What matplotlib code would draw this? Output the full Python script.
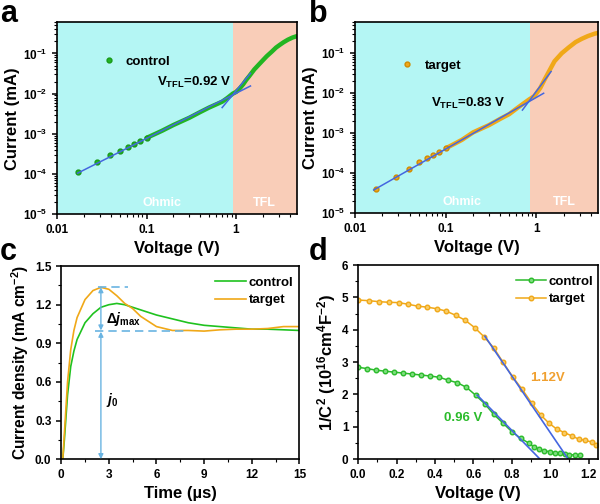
import numpy as np
import matplotlib
matplotlib.use('Agg')
import matplotlib.pyplot as plt
from matplotlib.ticker import FuncFormatter, MultipleLocator, LogLocator, NullFormatter

plt.rcParams.update({
    'font.family': ['Liberation Sans', 'DejaVu Sans'],
    'font.weight': 'bold',
    'axes.labelweight': 'bold',
    'axes.linewidth': 1.2,
    'xtick.labelsize': 8.5,
    'ytick.labelsize': 8.5,
    'axes.labelsize': 12,
    'xtick.major.width': 1.1,
    'ytick.major.width': 1.1,
    'xtick.minor.width': 0.8,
    'ytick.minor.width': 0.8,
    'xtick.major.size': 3.5,
    'ytick.major.size': 3.5,
    'xtick.minor.size': 2,
    'ytick.minor.size': 2,
    'mathtext.fontset': 'custom',
    'mathtext.rm': 'Liberation Sans:bold',
    'mathtext.bf': 'Liberation Sans:bold',
    'mathtext.it': 'Liberation Sans:italic:bold',
})

# colours
green = '#22b522'
orange = '#f0a818'
blue = '#4466e0'
cyan_bg = '#b4f6f4'
salmon_bg = '#f9cdb8'
arrow_c = '#6ab4e2'

# ---- (a) control dark J-V (log-log)
v_ctrl = [0.017, 0.028, 0.039, 0.051, 0.062, 0.073, 0.084, 0.1, 0.15, 0.2, 0.3, 0.4,
          0.5, 0.6, 0.7, 0.8, 0.92, 1.0, 1.1, 1.2, 1.3, 1.4, 1.6, 1.8, 2.0, 2.2, 2.5,
          2.8, 3.1, 3.4, 3.8, 4.3, 4.8]
i_ctrl = [1.1e-4, 2.0e-4, 2.9e-4, 3.8e-4, 4.7e-4, 5.6e-4, 6.6e-4, 7.9e-4, 1.2e-3,
          1.66e-3, 2.5e-3, 3.5e-3, 4.5e-3, 5.4e-3, 6.3e-3, 7.8e-3, 1.0e-2, 1.1e-2,
          1.35e-2, 1.7e-2, 2.2e-2, 2.7e-2, 4.0e-2, 5.3e-2, 6.8e-2, 8.5e-2, 0.11,
          0.14, 0.165, 0.19, 0.22, 0.25, 0.27]
fit_a_ohm_v = [0.017, 1.45]
fit_a_ohm_i = [1.05e-4, 1.55e-2]
fit_a_tfl_v = [0.7, 1.45]
fit_a_tfl_i = [4.5e-3, 3.2e-2]
vtfl_ctrl = 0.92

# ---- (b) target dark J-V
v_tgt = [0.017, 0.028, 0.039, 0.051, 0.062, 0.073, 0.084, 0.1, 0.15, 0.2, 0.3, 0.4,
         0.5, 0.6, 0.7, 0.83, 0.95, 1.1, 1.23, 1.4, 1.58, 1.9, 2.27, 2.7, 3.16, 3.7,
         4.4, 4.7]
i_tgt = [4.0e-5, 8.0e-5, 1.3e-4, 1.9e-4, 2.35e-4, 2.8e-4, 3.3e-4, 4.2e-4, 6.8e-4,
         1.05e-3, 1.6e-3, 2.3e-3, 3.0e-3, 4.1e-3, 5.3e-3, 7.0e-3, 8.5e-3, 1.35e-2,
         2.2e-2, 3.8e-2, 6.3e-2, 0.10, 0.14, 0.19, 0.23, 0.27, 0.31, 0.32]
fit_b_ohm_v = [0.016, 1.2]
fit_b_ohm_i = [3.8e-5, 1.0e-2]
fit_b_tfl_v = [0.7, 1.45]
fit_b_tfl_i = [3.8e-3, 3.5e-2]
vtfl_tgt = 0.85

# ---- (c) transient photocurrent
t_ctrl = [0.0, 0.1, 0.2, 0.4, 0.6, 0.8, 1.0, 1.5, 2.0, 2.5, 3.0, 3.5, 4.0, 4.5, 5.0,
          6.0, 7.0, 8.0, 9.0, 10.0, 11.0, 12.0, 13.0, 14.0, 15.0]
j_ctrl = [0.0, 0.0, 0.15, 0.5, 0.72, 0.84, 0.93, 1.06, 1.13, 1.18, 1.2, 1.21, 1.2,
          1.18, 1.16, 1.12, 1.09, 1.06, 1.04, 1.03, 1.02, 1.01, 1.01, 1.005, 1.0]
t_tgt = [0.0, 0.1, 0.2, 0.4, 0.6, 0.8, 1.0, 1.5, 2.0, 2.5, 3.0, 3.5, 4.0, 4.5, 5.0,
         5.5, 6.0, 7.0, 8.0, 9.0, 10.0, 11.0, 12.0, 13.0, 14.0, 15.0]
j_tgt = [0.0, 0.0, 0.2, 0.6, 0.85, 1.0, 1.1, 1.24, 1.31, 1.335, 1.32, 1.27, 1.21,
         1.17, 1.11, 1.07, 1.03, 1.0, 1.0, 0.995, 1.005, 1.01, 1.01, 1.015, 1.03, 1.03]
j0 = 0.995
j_peak = 1.336
t_mark = 2.5

# ---- (d) Mott-Schottky
v_ms_ctrl = [0.0, 0.047, 0.094, 0.141, 0.188, 0.235, 0.282, 0.329, 0.376, 0.423,
             0.47, 0.517, 0.564, 0.611, 0.658, 0.705, 0.753, 0.80, 0.847, 0.888,
             0.914, 0.94, 0.966, 0.997, 1.023, 1.05, 1.075, 1.10, 1.127, 1.153]
c2_ctrl = [2.84, 2.80, 2.75, 2.72, 2.69, 2.66, 2.63, 2.60, 2.57, 2.53, 2.44, 2.36,
           2.22, 1.98, 1.72, 1.39, 1.12, 0.85, 0.64, 0.50, 0.38, 0.31, 0.26, 0.23,
           0.20, 0.18, 0.16, 0.14, 0.13, 0.13]
v_ms_tgt = [0.0, 0.055, 0.107, 0.16, 0.21, 0.26, 0.31, 0.36, 0.41, 0.457, 0.507,
            0.556, 0.606, 0.656, 0.706, 0.755, 0.805, 0.854, 0.904, 0.95, 0.994,
            1.034, 1.074, 1.112, 1.148, 1.183, 1.216, 1.24]
c2_tgt = [4.92, 4.90, 4.87, 4.85, 4.84, 4.79, 4.73, 4.70, 4.65, 4.58, 4.45, 4.30,
          4.07, 3.78, 3.44, 2.99, 2.54, 2.16, 1.73, 1.37, 1.11, 0.93, 0.82, 0.72,
          0.62, 0.58, 0.53, 0.45]
fit_d_ctrl_v = [0.62, 0.947]
fit_d_ctrl_y = [1.98, 0.0]
fit_d_tgt_v = [0.66, 1.094]
fit_d_tgt_y = [3.8, 0.0]

fig = plt.figure(figsize=(6, 5.04), dpi=100)

def dec_fmt(x, pos):
    return r'$\mathbf{10^{%d}}$' % int(round(np.log10(x)))

def lin_fmt(x, pos):
    return '%g' % x

def setup_log(ax, vtfl):
    ax.set_xscale('log')
    ax.set_yscale('log')
    ax.set_xlim(0.01, 4.8)
    ax.set_ylim(1e-5, 0.6)
    ax.axvspan(0.01, vtfl, color=cyan_bg, lw=0, zorder=0)
    ax.axvspan(vtfl, 4.8, color=salmon_bg, lw=0, zorder=0)
    ax.xaxis.set_major_formatter(FuncFormatter(lin_fmt))
    ax.yaxis.set_major_locator(LogLocator(base=10, numticks=10))
    ax.yaxis.set_major_formatter(FuncFormatter(dec_fmt))
    ax.yaxis.set_minor_locator(LogLocator(base=10, subs=np.arange(2, 10), numticks=10))
    ax.yaxis.set_minor_formatter(NullFormatter())
    ax.xaxis.set_minor_formatter(NullFormatter())
    ax.set_xlabel('Voltage (V)', labelpad=4)
    ax.set_ylabel('Current (mA)', labelpad=2)
    ax.text(0.15, 1.9e-5, 'Ohmic', color='white', fontsize=9, ha='center', va='center')
    ax.text(2.05, 1.9e-5, 'TFL', color='white', fontsize=9, ha='center', va='center')

n = 8  # first index drawn as a continuous dense band

# (a)
ax = fig.add_axes([0.095, 0.575, 0.400, 0.381])
setup_log(ax, vtfl_ctrl)
ax.plot(v_ctrl[n - 1:], i_ctrl[n - 1:], '-', color=green, lw=3.2, zorder=2,
        solid_capstyle='round')
ax.plot(v_ctrl[:n], i_ctrl[:n], 'o', color=green, mec='#189a18', ms=3.5, zorder=3,
        label='control')
ax.plot(fit_a_ohm_v, fit_a_ohm_i, '-', color=blue, lw=1.1, zorder=4)
ax.plot(fit_a_tfl_v, fit_a_tfl_i, '-', color=blue, lw=1.1, zorder=4)
ax.text(0.13, 1.9e-2, r'V$_{\mathbf{TFL}}$=0.92 V', fontsize=9.5, va='center')
ax.legend(loc='upper left', bbox_to_anchor=(0.16, 0.86), frameon=False, fontsize=9.5,
          handlelength=1, handletextpad=0.8, borderpad=0)

# (b)
ax = fig.add_axes([0.592, 0.577, 0.405, 0.379])
setup_log(ax, vtfl_tgt)
ax.plot(v_tgt[n - 1:], i_tgt[n - 1:], '-', color=orange, lw=3.2, zorder=2,
        solid_capstyle='round')
ax.plot(v_tgt[:n], i_tgt[:n], 'o', color=orange, mec='#d08a00', ms=3.5, zorder=3,
        label='target')
ax.plot(fit_b_ohm_v, fit_b_ohm_i, '-', color=blue, lw=1.1, zorder=4)
ax.plot(fit_b_tfl_v, fit_b_tfl_i, '-', color=blue, lw=1.1, zorder=4)
ax.text(0.068, 5.6e-3, r'V$_{\mathbf{TFL}}$=0.83 V', fontsize=9.5, va='center')
ax.legend(loc='upper left', bbox_to_anchor=(0.16, 0.84), frameon=False, fontsize=9.5,
          handlelength=1, handletextpad=0.8, borderpad=0)

# (c)
ax = fig.add_axes([0.102, 0.089, 0.397, 0.383])
ax.plot(t_ctrl, j_ctrl, '-', color='#1fc21f', lw=1.2, label='control')
ax.plot(t_tgt, j_tgt, '-', color=orange, lw=1.2, label='target')
ax.set_xlim(0, 15)
ax.set_ylim(0, 1.5)
ax.xaxis.set_major_locator(MultipleLocator(3))
ax.xaxis.set_minor_locator(MultipleLocator(1.5))
ax.yaxis.set_major_locator(MultipleLocator(0.3))
ax.yaxis.set_minor_locator(MultipleLocator(0.15))
ax.yaxis.set_major_formatter(FuncFormatter(lambda x, p: '%.1f' % x))
ax.plot([2.3, 4.2], [j_peak, j_peak], '--', color=arrow_c, lw=1.2, dashes=(5, 3))
ax.plot([2.1, 7.8], [j0, j0], '--', color=arrow_c, lw=1.2, dashes=(5, 3))
ax.annotate('', xy=(t_mark, j_peak), xytext=(t_mark, j0 + 0.005),
            arrowprops=dict(arrowstyle='<|-|>', color=arrow_c, lw=1, mutation_scale=7,
                            shrinkA=0, shrinkB=0))
ax.annotate('', xy=(t_mark, j0 - 0.005), xytext=(t_mark, 0.0),
            arrowprops=dict(arrowstyle='<|-|>', color=arrow_c, lw=1, mutation_scale=7,
                            shrinkA=0, shrinkB=0))
ax.text(2.8, 1.09, r'$\mathit{\Delta j}_{\mathrm{max}}$', fontsize=10, va='center')
ax.text(2.8, 0.46, r'$\mathit{j}_{\mathrm{0}}$', fontsize=10, va='center')
ax.set_xlabel('Time (µs)', labelpad=4)
ax.set_ylabel(r'Current density (mA cm$^{\mathbf{-2}}$)', labelpad=3, fontsize=11.2)
ax.legend(loc='upper left', bbox_to_anchor=(0.62, 0.98), frameon=False, fontsize=9.5,
          handlelength=2.3, handletextpad=0.2, borderpad=0, labelspacing=0.4)

# (d)
ax = fig.add_axes([0.597, 0.089, 0.400, 0.385])
ax.plot(v_ms_ctrl, c2_ctrl, '-o', color='#2bbb2b', mfc='#7fdc7f', mec='#2bbb2b', ms=3.3,
        lw=1.1, label='control')
ax.plot(v_ms_tgt, c2_tgt, '-o', color=orange, mfc='#f8cd6a', mec=orange, ms=3.3,
        lw=1.1, label='target')
ax.plot(fit_d_ctrl_v, fit_d_ctrl_y, '-', color=blue, lw=1.2)
ax.plot(fit_d_tgt_v, fit_d_tgt_y, '-', color=blue, lw=1.2)
ax.set_xlim(0, 1.25)
ax.set_ylim(0, 6)
ax.xaxis.set_major_locator(MultipleLocator(0.2))
ax.xaxis.set_minor_locator(MultipleLocator(0.1))
ax.xaxis.set_major_formatter(FuncFormatter(lambda x, p: '%.1f' % x))
ax.yaxis.set_major_locator(MultipleLocator(1))
ax.yaxis.set_minor_locator(MultipleLocator(0.5))
ax.text(0.895, 2.5, '1.12V', color='#f0a030', fontsize=9.5, va='center')
ax.text(0.445, 1.26, '0.96 V', color='#2bbb2b', fontsize=9.5, va='center')
ax.set_xlabel('Voltage (V)', labelpad=4)
ax.set_ylabel(r'1/C$^{\mathbf{2}}$ (10$^{\mathbf{16}}$cm$^{\mathbf{4}}$F$^{\mathbf{-2}}$)',
              labelpad=3)
ax.legend(loc='upper left', bbox_to_anchor=(0.63, 0.98), frameon=False, fontsize=9.5,
          handlelength=2.3, handletextpad=0.2, borderpad=0, labelspacing=0.4)

# panel letters
for x, y, s in [(0.0, 0.956, 'a'), (0.515, 0.956, 'b'), (0.0, 0.484, 'c'), (0.515, 0.484, 'd')]:
    fig.text(x, y, s, fontsize=22, fontweight='bold', va='baseline')

fig.savefig('out.png', dpi=100)
